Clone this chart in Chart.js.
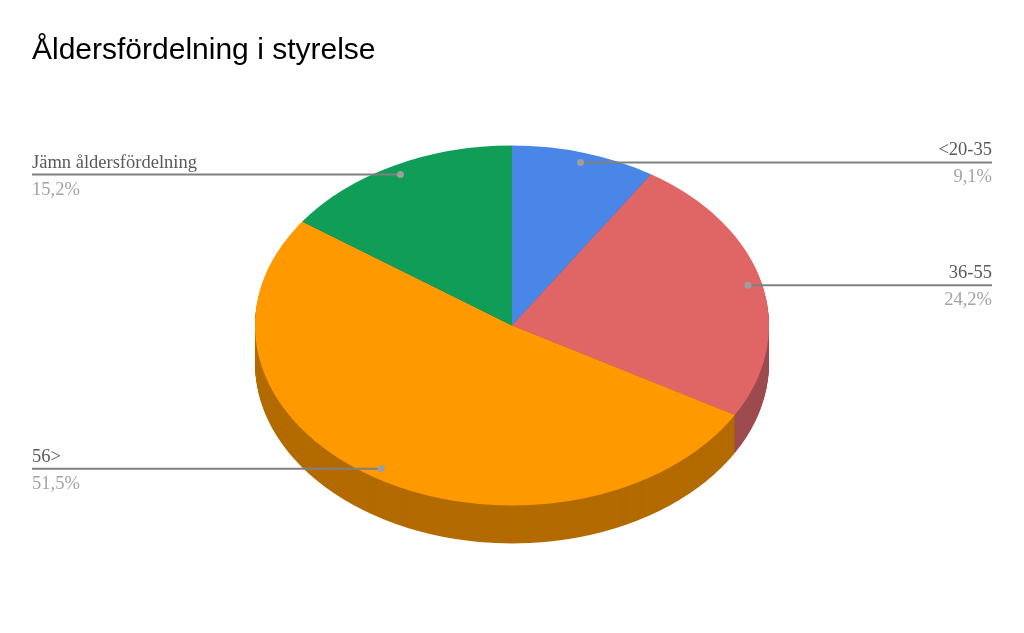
<!DOCTYPE html>
<html>
<head>
<meta charset="utf-8">
<script src="https://cdn.jsdelivr.net/npm/chart.js@4"></script>
<style>
  html, body { margin: 0; padding: 0; background: #fff; }
  #wrap { width: 1024px; height: 633px; }
</style>
</head>
<body>
<div id="wrap"><canvas id="pie"></canvas></div>
<script>
const categories = ['<20-35', '36-55', '56>', 'Jämn åldersfördelning']
const shares = [9.1, 24.2, 51.5, 15.2]
const shareLabels = ['9,1%', '24,2%', '51,5%', '15,2%']
const sliceColors = ['#4a86e8', '#e06666', '#ff9900', '#109d58']
const sideColors = ['#345ea2', '#9d4b4f', '#b36b00', '#0b6e3e']

const squash = 0.7   // height / width of the tilted pie
const depth = 38     // thickness of the pie on screen, px

// tilt everything the pie draws and put the dark rim under it
const tiltPlugin = {
  id: 'tilt',
  beforeDatasetsDraw(chart) {
    const ctx = chart.ctx
    const arcs = chart.getDatasetMeta(0).data
    const cx = arcs[0].x, cy = arcs[0].y
    ctx.save()
    ctx.translate(cx, cy)
    ctx.scale(1, squash)
    ctx.translate(-cx, -cy)
    for (let d = depth; d > 0; d--) {
      arcs.forEach((arc, i) => {
        ctx.save()
        ctx.translate(0, d / squash)
        const saved = arc.options.backgroundColor
        arc.options.backgroundColor = sideColors[i]
        arc.draw(ctx)
        arc.options.backgroundColor = saved
        ctx.restore()
      })
    }
  },
  afterDatasetsDraw(chart) {
    chart.ctx.restore()
  }
}

// leader lines + labels, anchored on each slice
const calloutPlugin = {
  id: 'callouts',
  afterDraw(chart) {
    const ctx = chart.ctx
    const arcs = chart.getDatasetMeta(0).data
    const leftEdge = 32, rightEdge = 992
    arcs.forEach((arc, i) => {
      const mid = (arc.startAngle + arc.endAngle) / 2
      const r = arc.outerRadius * 0.945
      const x = arc.x + Math.cos(mid) * r
      const y = arc.y + Math.sin(mid) * r * squash
      const right = x > arc.x
      ctx.save()
      ctx.strokeStyle = '#808080'
      ctx.lineWidth = 2
      ctx.beginPath()
      ctx.moveTo(x, y)
      ctx.lineTo(right ? rightEdge : leftEdge, y)
      ctx.stroke()
      ctx.fillStyle = '#9e9e9e'
      ctx.beginPath()
      ctx.arc(x, y, 3.5, 0, Math.PI * 2)
      ctx.fill()
      ctx.font = '18.5px "Liberation Serif"'
      ctx.textAlign = right ? 'right' : 'left'
      ctx.textBaseline = 'alphabetic'
      const tx = right ? rightEdge : leftEdge
      ctx.fillStyle = '#595959'
      ctx.fillText(categories[i], tx, y - 7)
      ctx.fillStyle = '#a3a3a3'
      ctx.fillText(shareLabels[i], tx, y + 20)
      ctx.restore()
    })
  }
}

new Chart(document.getElementById('pie'), {
  type: 'pie',
  data: {
    labels: categories,
    datasets: [{ data: shares, backgroundColor: sliceColors, borderWidth: 0, hoverOffset: 0 }]
  },
  options: {
    responsive: true,
    maintainAspectRatio: false,
    animation: false,
    layout: { padding: { top: 32.5, left: 32, right: 32, bottom: 50.5 } },
    plugins: {
      legend: { display: false },
      tooltip: { enabled: false },
      title: {
        display: true,
        text: 'Åldersfördelning i styrelse',
        align: 'start',
        color: '#000000',
        font: { family: '"Liberation Sans"', size: 30, weight: 'normal' },
        padding: 0
      }
    }
  },
  plugins: [tiltPlugin, calloutPlugin]
})
</script>
</body>
</html>
